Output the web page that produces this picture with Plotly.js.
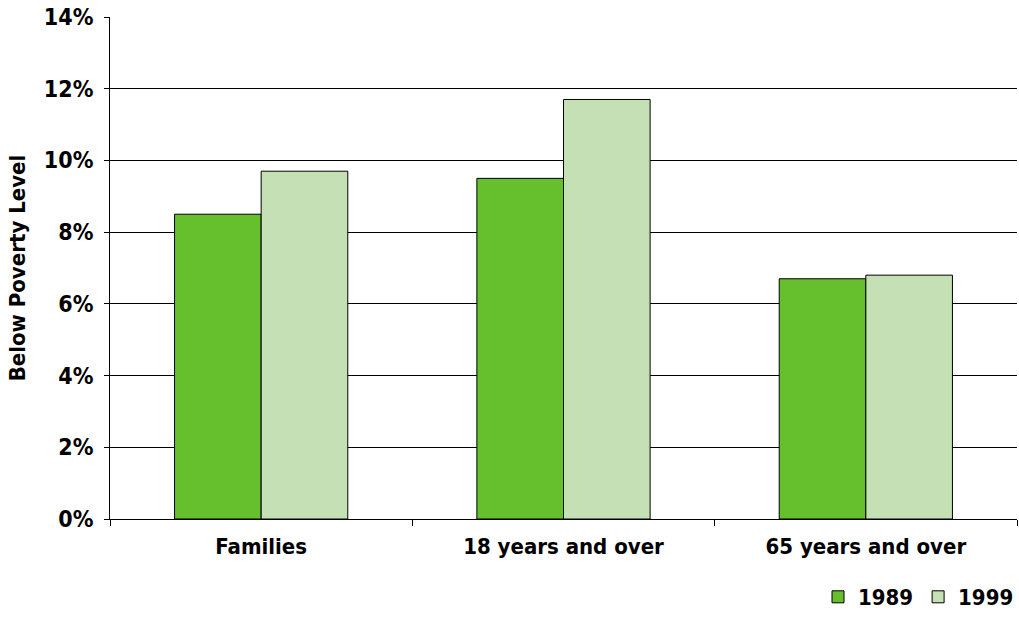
<!DOCTYPE html>
<html>
<head>
<meta charset="utf-8">
<script src="https://cdn.plot.ly/plotly-3.0.1.min.js"></script>
<style>
  html, body { margin: 0; padding: 0; background: #ffffff; }
  #chart { width: 1019px; height: 618px; }
</style>
</head>
<body>
<div id="chart"></div>
<script>
// Share of population below the poverty level, by group
const categories = ["Families", "18 years and over", "65 years and over"];
const series1989 = [8.5, 9.5, 6.7];
const series1999 = [9.7, 11.7, 6.8];
const seriesNames = ["1989", "1999"];
const yTickValues = [0, 2, 4, 6, 8, 10, 12, 14];
const yTickLabels = ["0%", "2%", "4%", "6%", "8%", "10%", "12%", "14%"];

const fontFamily = "'DejaVu Sans Condensed', 'DejaVu Sans', 'Liberation Sans', sans-serif";

const traces = [
  {
    type: "bar",
    name: seriesNames[0],
    x: categories,
    y: series1989,
    marker: { color: "#66bf2d", line: { color: "#000000", width: 1 } },
    hoverinfo: "none"
  },
  {
    type: "bar",
    name: seriesNames[1],
    x: categories,
    y: series1999,
    marker: { color: "#c5e0b4", line: { color: "#000000", width: 1 } },
    hoverinfo: "none"
  }
];

const layout = {
  width: 1019,
  height: 618,
  margin: { l: 110, r: 2, t: 17, b: 99 },
  paper_bgcolor: "#ffffff",
  plot_bgcolor: "#ffffff",
  barmode: "group",
  bargap: 0.427,
  bargroupgap: 0,
  font: { family: fontFamily, size: 21, color: "#000000", weight: "bold" },
  xaxis: {
    type: "category",
    automargin: false,
    showline: true,
    linecolor: "#000000",
    linewidth: 1,
    ticks: "outside",
    tickson: "boundaries",
    ticklen: 6,
    tickcolor: "#000000",
    ticklabelstandoff: 8,
    tickfont: { family: fontFamily, size: 22, color: "#000000", weight: "bold" },
    showgrid: false,
    zeroline: false
  },
  yaxis: {
    range: [0, 14],
    automargin: false,
    tickvals: yTickValues,
    ticktext: yTickLabels,
    showline: true,
    linecolor: "#000000",
    linewidth: 1,
    ticks: "outside",
    ticklen: 5,
    tickcolor: "#000000",
    ticklabelstandoff: 6,
    showgrid: true,
    gridcolor: "#000000",
    gridwidth: 1,
    zeroline: false,
    tickfont: { family: fontFamily, size: 23, color: "#000000", weight: "bold" },
    title: {
      text: "Below Poverty Level",
      font: { family: fontFamily, size: 22, color: "#000000", weight: "bold" },
      standoff: 12
    }
  },
  legend: {
    orientation: "h",
    xref: "container",
    yref: "container",
    x: 1,
    xanchor: "right",
    y: 0,
    yanchor: "bottom",
    valign: "bottom",
    font: { family: fontFamily, size: 22, color: "#000000", weight: "bold" },
    itemwidth: 30,
    tracegroupgap: 0,
    traceorder: "normal"
  },
  showlegend: true
};

Plotly.newPlot("chart", traces, layout, { displayModeBar: false, staticPlot: true });
</script>
</body>
</html>
